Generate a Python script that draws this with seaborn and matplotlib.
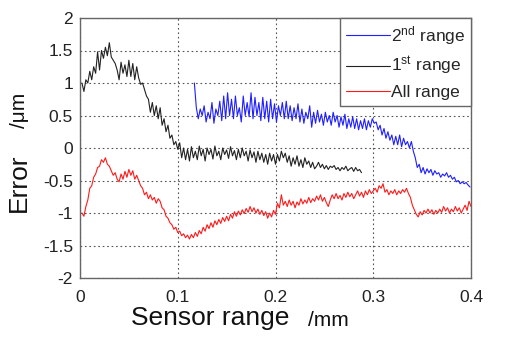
import numpy as np
import pandas as pd
import matplotlib
matplotlib.use("Agg")
import matplotlib.pyplot as plt
import seaborn as sns

# ---------------- data ----------------
labels = ["2$^{\\mathrm{nd}}$ range", "1$^{\\mathrm{st}}$ range", "All range"]
colors = ["#1f1fff", "#222222", "#ff1a1a"]

# 2nd range (blue): sampled from x=0.117 to x=0.399
x2_start, x2_end = 0.117, 0.399
y_second = [
    1.00, 0.62, 0.45, 0.60, 0.50, 0.65, 0.40, 0.55, 0.45, 0.70,
    0.38, 0.60, 0.50, 0.72, 0.42, 0.80, 0.45, 0.85, 0.50, 0.75,
    0.45, 0.80, 0.50, 0.62, 0.40, 0.80, 0.50, 0.70, 0.48, 0.85,
    0.45, 0.78, 0.50, 0.70, 0.42, 0.78, 0.45, 0.72, 0.40, 0.75,
    0.45, 0.68, 0.40, 0.65, 0.50, 0.70, 0.45, 0.72, 0.45, 0.65,
    0.42, 0.62, 0.45, 0.68, 0.40, 0.60, 0.38, 0.55, 0.45, 0.65,
    0.32, 0.55, 0.38, 0.58, 0.40, 0.52, 0.35, 0.55, 0.40, 0.50,
    0.35, 0.55, 0.40, 0.50, 0.32, 0.48, 0.35, 0.52, 0.30, 0.45,
    0.32, 0.48, 0.30, 0.45, 0.28, 0.42, 0.30, 0.45, 0.28, 0.42,
    0.32, 0.45, 0.38, 0.40, 0.28, 0.35, 0.20, 0.30, 0.15, 0.25,
    0.12, 0.20, 0.05, 0.18, 0.05, 0.20, 0.02, 0.15, 0.05, 0.10,
    0.00, 0.10, -0.05, -0.15, -0.30, -0.25, -0.38, -0.30, -0.40, -0.32,
    -0.38, -0.33, -0.42, -0.35, -0.40, -0.38, -0.45, -0.40, -0.43, -0.38,
    -0.45, -0.42, -0.48, -0.45, -0.52, -0.50, -0.55, -0.52, -0.55, -0.53,
    -0.57, -0.60,
]

# 1st range (black): sampled from x=0.002 to x=0.288
x1_start, x1_end = 0.002, 0.288
y_first = [
    1.00, 0.87, 1.05, 1.00, 1.18, 1.05, 1.25, 1.15, 1.48, 1.20,
    1.50, 1.38, 1.55, 1.42, 1.62, 1.40, 1.35, 1.30, 1.20, 1.05,
    1.32, 1.15, 1.28, 1.10, 1.35, 1.10, 1.30, 1.05, 1.25, 1.08,
    0.98, 1.00, 0.90, 0.80, 0.75, 0.55, 0.70, 0.50, 0.65, 0.45,
    0.62, 0.35, 0.45, 0.25, 0.35, 0.15, 0.20, 0.05, 0.10, -0.02,
    0.08, -0.15, 0.00, -0.18, -0.02, -0.20, 0.02, -0.15, -0.05, -0.18,
    0.03, -0.12, -0.02, -0.20, 0.00, -0.10, -0.02, -0.17, 0.03, -0.12,
    -0.05, -0.18, 0.00, -0.10, -0.03, -0.16, 0.02, -0.12, -0.04, -0.18,
    -0.02, -0.15, 0.00, -0.12, -0.05, -0.20, -0.03, -0.15, -0.06, -0.22,
    -0.05, -0.18, -0.08, -0.22, -0.10, -0.25, -0.08, -0.20, -0.10, -0.25,
    -0.10, -0.20, -0.05, -0.15, -0.08, -0.22, -0.12, -0.28, -0.15, -0.25,
    -0.12, -0.28, -0.18, -0.30, -0.15, -0.25, -0.20, -0.30, -0.22, -0.32,
    -0.28, -0.22, -0.30, -0.25, -0.32, -0.27, -0.33, -0.28, -0.30, -0.27,
    -0.33, -0.30, -0.35, -0.30, -0.33, -0.28, -0.35, -0.32, -0.30, -0.36,
    -0.30, -0.35, -0.33, -0.38,
]

# All range (red): sampled from x=0.002 to x=0.400
xa_start, xa_end = 0.002, 0.400
y_all = [
    -1.00, -1.05, -0.90, -0.80, -0.62, -0.58, -0.45, -0.40, -0.30, -0.28,
    -0.18, -0.22, -0.15, -0.25, -0.28, -0.35, -0.42, -0.38, -0.48, -0.52,
    -0.40, -0.48, -0.36, -0.45, -0.33, -0.42, -0.35, -0.48, -0.42, -0.50,
    -0.58, -0.62, -0.72, -0.68, -0.78, -0.72, -0.80, -0.76, -0.85, -0.78,
    -0.82, -0.92, -0.95, -1.05, -1.08, -1.15, -1.18, -1.25, -1.22, -1.30,
    -1.28, -1.35, -1.32, -1.38, -1.34, -1.40, -1.33, -1.38, -1.30, -1.36,
    -1.27, -1.32, -1.22, -1.28, -1.18, -1.24, -1.15, -1.22, -1.12, -1.18,
    -1.10, -1.16, -1.07, -1.13, -1.05, -1.12, -1.02, -1.08, -0.98, -1.05,
    -0.97, -1.03, -0.95, -1.01, -0.93, -0.99, -0.90, -0.98, -0.92, -1.00,
    -0.94, -1.02, -0.96, -1.04, -0.98, -1.08, -1.00, -1.06, -0.96, -1.02,
    -0.85, -0.92, -0.72, -0.88, -0.82, -0.90, -0.80, -0.88, -0.82, -0.92,
    -0.83, -0.88, -0.78, -0.86, -0.80, -0.85, -0.76, -0.84, -0.78, -0.82,
    -0.74, -0.80, -0.72, -0.82, -0.76, -0.84, -0.90, -0.80, -0.72, -0.78,
    -0.70, -0.78, -0.73, -0.80, -0.70, -0.76, -0.68, -0.75, -0.70, -0.78,
    -0.72, -0.66, -0.74, -0.68, -0.76, -0.66, -0.72, -0.64, -0.70, -0.66,
    -0.62, -0.68, -0.58, -0.62, -0.55, -0.68, -0.64, -0.72, -0.66, -0.70,
    -0.64, -0.72, -0.66, -0.70, -0.64, -0.68, -0.62, -0.70, -0.76, -0.88,
    -0.95, -1.02, -1.06, -0.98, -1.03, -0.96, -1.00, -0.94, -1.00, -0.95,
    -1.02, -0.96, -1.00, -0.94, -0.99, -0.90, -0.97, -0.92, -1.00, -0.94,
    -0.98, -0.90, -0.97, -0.92, -1.00, -0.94, -0.88, -0.96, -0.82, -0.90,
]

x_ticks = [0, 0.1, 0.2, 0.3, 0.4]
x_tick_labels = ["0", "0.1", "0.2", "0.3", "0.4"]
y_ticks = [-2, -1.5, -1, -0.5, 0, 0.5, 1, 1.5, 2]
y_tick_labels = ["-2", "-1.5", "-1", "-0.5", "0", "0.5", "1", "1.5", "2"]

# ---------------- build long-form table ----------------
frames = []
for lab, (xs, xe, ys) in zip(labels, [(x2_start, x2_end, y_second),
                                      (x1_start, x1_end, y_first),
                                      (xa_start, xa_end, y_all)]):
    frames.append(pd.DataFrame({"x": np.linspace(xs, xe, len(ys)),
                                "y": ys, "series": lab}))
df = pd.concat(frames, ignore_index=True)

# ---------------- style ----------------
sns.set_theme(style="white")
plt.rcParams["font.family"] = ["Liberation Sans", "DejaVu Sans"]
plt.rcParams["mathtext.fontset"] = "custom"
plt.rcParams["mathtext.rm"] = "Liberation Sans"
plt.rcParams["mathtext.it"] = "Liberation Sans:italic"

W, H = 506, 341
fig = plt.figure(figsize=(W / 100, H / 100), dpi=100)
L, R, T, B = 80, 471, 18, 278
ax = fig.add_axes([L / W, 1 - B / H, (R - L) / W, (B - T) / H])

sns.lineplot(data=df, x="x", y="y", hue="series", hue_order=labels,
             palette=dict(zip(labels, colors)), estimator=None, sort=False,
             linewidth=0.8, ax=ax)

ax.set_xlim(0, 0.4)
ax.set_ylim(-2, 2)
ax.set_xticks(x_ticks)
ax.set_xticklabels(x_tick_labels)
ax.set_yticks(y_ticks)
ax.set_yticklabels(y_tick_labels)
ax.tick_params(axis="both", labelsize=12.5, colors="#222222", direction="in",
               length=3, width=0.6)
ax.tick_params(axis="x", pad=9)
ax.tick_params(axis="y", pad=5)
ax.grid(True, linestyle=(0, (1.5, 2.5)), color="#555555", linewidth=0.8)
for s in ax.spines.values():
    s.set_visible(True)
    s.set_color("#666666")
    s.set_linewidth(1.0)

ax.set_xlabel("")
ax.set_ylabel("")

fig.text(210 / W, 1 - 318 / H, "Sensor range", fontsize=19, ha="center",
         va="center", color="#111111")
fig.text(328 / W, 1 - 320 / H, "/mm", fontsize=15, ha="center",
         va="center", color="#111111")
fig.text(19 / W, 1 - 183 / H, "Error", fontsize=19, ha="center",
         va="center", rotation=90, color="#111111")
fig.text(20 / W, 1 - 110 / H, "/\u03bcm", fontsize=15, ha="center",
         va="center", rotation=90, color="#111111")

handles, labs = ax.get_legend_handles_labels()
leg = ax.legend(handles, labs, loc="upper right", bbox_to_anchor=(1, 1),
                borderaxespad=0, fontsize=12.5, handlelength=2.5,
                handletextpad=0.05, labelspacing=0.45, borderpad=0.35,
                fancybox=False, framealpha=1, edgecolor="#666666")
leg.get_frame().set_linewidth(1.0)
for line in leg.get_lines():
    line.set_linewidth(0.8)

fig.savefig("out.png", dpi=100)
